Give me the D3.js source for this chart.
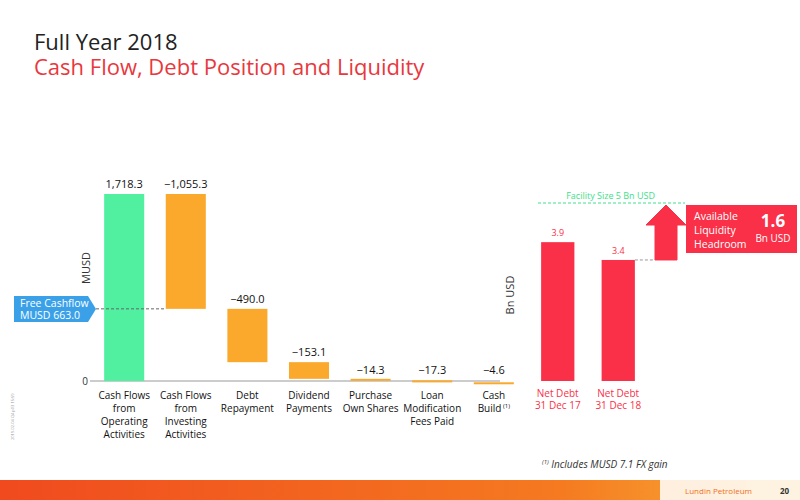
<!DOCTYPE html><html><head><meta charset="utf-8">
<script src="https://cdn.jsdelivr.net/npm/d3@7"></script>
<style>body{margin:0;background:#fff}text{font-family:"Open Sans",sans-serif}</style></head><body>
<svg id="c" width="800" height="500"></svg>
<script>
const categories=[["Cash Flows","from","Operating","Activities"],["Cash Flows","from","Investing","Activities"],["Debt","Repayment"],["Dividend","Payments"],["Purchase","Own Shares"],["Loan","Modification","Fees Paid"],["Cash","Build"]];
const values=[1718.3,-1055.3,-490.0,-153.1,-14.3,-17.3,-4.6];
const labels=["1,718.3","−1,055.3","−490.0","−153.1","−14.3","−17.3","−4.6"];
const debtCats=[["Net Debt","31 Dec 17"],["Net Debt","31 Dec 18"]];
const debtVals=[3.9,3.4];
const facility=5, freeCash=663.0;
const svg=d3.select("#c");
svg.append("text").attr("x",34).attr("y",50).attr("font-size",22).attr("fill","#222").text("Full Year 2018");
svg.append("text").attr("x",34).attr("y",75).attr("font-size",22).attr("fill","#e8383d").text("Cash Flow, Debt Position and Liquidity");
const y=d3.scaleLinear().domain([0,1718.3]).range([381,194]);
const x=d3.scaleBand().domain(d3.range(7)).range([98,520]).paddingInner(0.35).paddingOuter(0.1);
let cum=0;const segs=values.map(v=>{const s={a:cum,b:cum+v};cum+=v;return s;});
svg.append("line").attr("x1",90).attr("x2",500).attr("y1",381).attr("y2",381).attr("stroke","#999");
svg.append("text").attr("x",88).attr("y",385).attr("text-anchor","end").attr("font-size",10).attr("fill","#333").text("0");
svg.append("text").attr("transform","translate(90,268) rotate(-90)").attr("text-anchor","middle").attr("font-size",11).attr("fill","#333").text("MUSD");
segs.forEach((s,i)=>{
 const top=Math.max(s.a,s.b),bot=Math.min(s.a,s.b);
 let y1=y(top),h=Math.max(y(bot)-y(top),2);
 svg.append("rect").attr("x",x(i)).attr("y",y1).attr("width",x.bandwidth()).attr("height",h).attr("fill",i==0?"#50f0a0":"#fba92c");
 const ly=i<2?y1-6:(i>=4?374:y1-6);
 svg.append("text").attr("x",x(i)+x.bandwidth()/2).attr("y",ly).attr("text-anchor","middle").attr("font-size",11).attr("fill","#111").text(labels[i]);
 categories[i].forEach((t,k)=>{const tx=svg.append("text").attr("x",x(i)+x.bandwidth()/2).attr("y",399+k*13).attr("text-anchor","middle").attr("font-size",10).attr("fill","#111").text(t);
  if(i==6&&k==1)tx.append("tspan").attr("font-size",6).attr("dy",-4).text(" (1)");});
});
svg.append("line").attr("x1",96).attr("x2",x(1)).attr("y1",y(freeCash)).attr("y2",y(freeCash)).attr("stroke","#666").attr("stroke-dasharray","3,2");
svg.append("path").attr("d",`M14,296 H88 L96,309 L88,322 H14 Z`).attr("fill","#3aa0e8");
svg.append("text").attr("x",20).attr("y",307).attr("font-size",10.5).attr("fill","#fff").text("Free Cashflow");
svg.append("text").attr("x",20).attr("y",319).attr("font-size",10.5).attr("fill","#fff").text("MUSD 663.0");
svg.append("text").attr("transform","translate(14,440) rotate(-90)").attr("font-size",4).attr("fill","#999").text("2019-02-04  Q4  p03  15:59");
const y2=d3.scaleLinear().domain([0,5]).range([381,203]);
const x2=d3.scaleBand().domain([0,1]).range([526,650]).paddingInner(0.45).paddingOuter(0.25);
svg.append("text").attr("transform","translate(514,295) rotate(-90)").attr("text-anchor","middle").attr("font-size",11).attr("fill","#333").text("Bn USD");
svg.append("line").attr("x1",538).attr("x2",685).attr("y1",y2(facility)).attr("y2",y2(facility)).attr("stroke","#3ee08a").attr("stroke-dasharray","3,2");
svg.append("text").attr("x",655).attr("y",y2(facility)-4).attr("text-anchor","end").attr("font-size",9).attr("fill","#3ee08a").text("Facility Size  5 Bn USD");
debtVals.forEach((v,i)=>{
 svg.append("rect").attr("x",x2(i)).attr("y",y2(v)).attr("width",x2.bandwidth()).attr("height",y2(0)-y2(v)).attr("fill","#fa3048");
 svg.append("text").attr("x",x2(i)+x2.bandwidth()/2).attr("y",y2(v)-6).attr("text-anchor","middle").attr("font-size",9).attr("fill","#fa3048").text(v.toFixed(1));
 debtCats[i].forEach((t,k)=>svg.append("text").attr("x",x2(i)+x2.bandwidth()/2).attr("y",397+k*12).attr("text-anchor","middle").attr("font-size",10).attr("fill","#fa3048").text(t));
});
svg.append("line").attr("x1",x2(1)+x2.bandwidth()).attr("x2",655).attr("y1",y2(3.4)).attr("y2",y2(3.4)).attr("stroke","#999").attr("stroke-dasharray","3,2");
const ab=y2(3.4),at=y2(facility);
svg.append("path").attr("d",`M655,${ab} V${at+22} H646 L666,${at+2} L686,${at+22} H677 V${ab} Z`).attr("fill","#fa3048").attr("stroke","#fa3048");
svg.append("rect").attr("x",686).attr("y",205).attr("width",111).attr("height",48).attr("fill","#fa3048");
["Available","Liquidity","Headroom"].forEach((t,k)=>svg.append("text").attr("x",694).attr("y",220+k*14).attr("font-size",10.5).attr("fill","#fff").text(t));
svg.append("text").attr("x",773).attr("y",227).attr("text-anchor","middle").attr("font-size",17).attr("font-weight","bold").attr("fill","#fff").text("1.6");
svg.append("text").attr("x",773).attr("y",242).attr("text-anchor","middle").attr("font-size",10).attr("fill","#fff").text("Bn USD");
const fn=svg.append("text").attr("x",542).attr("y",468).attr("font-family","Liberation Serif").attr("font-style","italic").attr("font-size",10).attr("fill","#333");
fn.append("tspan").attr("font-size",6).attr("dy",-4).text("(1)");fn.append("tspan").attr("dy",4).text(" Includes MUSD 7.1 FX gain");
const g=svg.append("defs").append("linearGradient").attr("id","gr");
g.append("stop").attr("offset","0").attr("stop-color","#f04a1e");g.append("stop").attr("offset","0.7").attr("stop-color","#f57a20");g.append("stop").attr("offset","1").attr("stop-color","#f9b13a");
svg.append("rect").attr("x",0).attr("y",480).attr("width",800).attr("height",20).attr("fill","url(#gr)");
svg.append("rect").attr("x",660).attr("y",480).attr("width",140).attr("height",20).attr("fill","#fff").attr("opacity",0.85);
svg.append("text").attr("x",685).attr("y",494).attr("font-size",8).attr("fill","#f07020").text("Lundin Petroleum");
svg.append("text").attr("x",780).attr("y",494).attr("font-size",8).attr("font-weight","bold").attr("fill","#333").text("20");
</script></body></html>
